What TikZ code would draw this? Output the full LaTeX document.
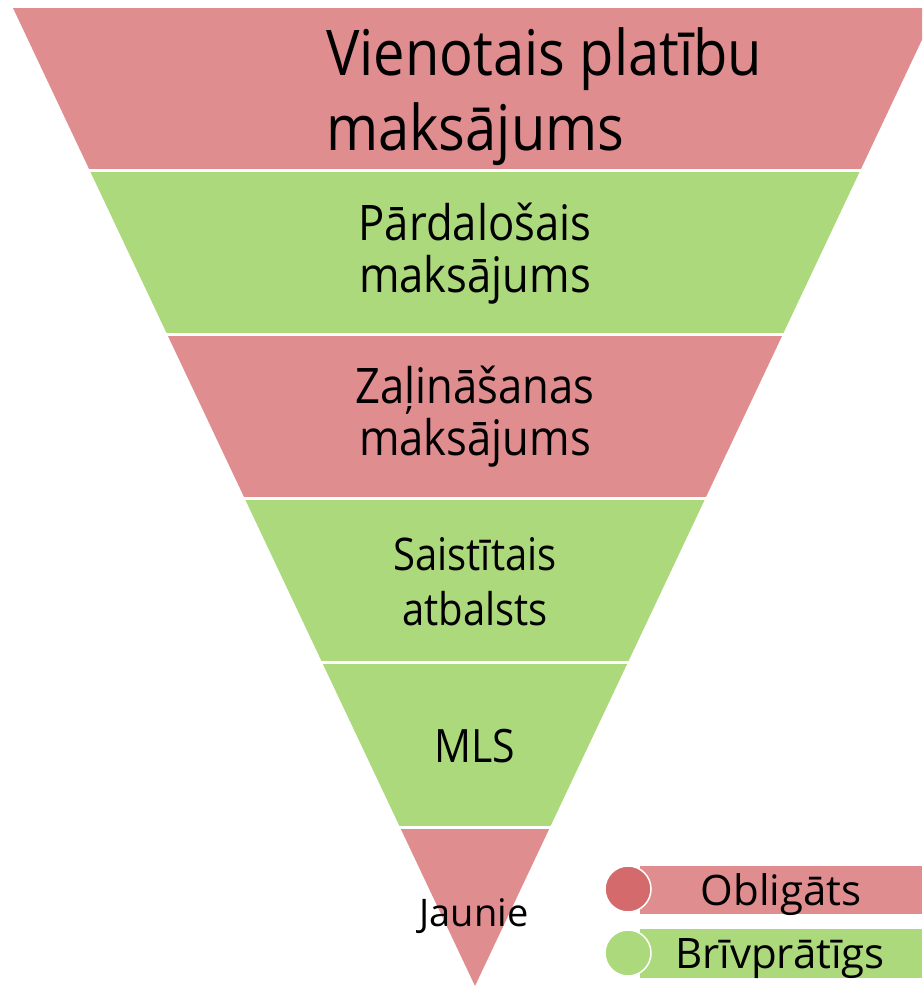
\documentclass[tikz,border=0pt]{standalone}
\usepackage{fontspec}
\setmainfont{Open Sans}
\newfontfamily\narrowfont{Open Sans}[FakeStretch=0.89]
\definecolor{bandred}{HTML}{E08D8F}
\definecolor{bandgreen}{HTML}{ADD97D}
\definecolor{dotred}{HTML}{D46A6C}
\tikzset{
  lbl/.style={anchor=base, align=center, inner sep=0pt, text=black},
  sep/.style={draw=white, line width=3pt},
}
\begin{document}
\begin{tikzpicture}[x=1pt,y=-1pt]
\useasboundingbox (0,0) rectangle (922,986);
\clip (0,0) rectangle (922,986);
% bands of the inverted triangle: apex (475,986), top y=8
\def\k{0.4724}
\foreach \ya/\yb/\c in {8/170.5/bandred, 170.5/334.5/bandgreen, 334.5/498.5/bandred, 498.5/662.5/bandgreen, 662.5/827.5/bandgreen, 827.5/986/bandred}{
  \fill[\c] ({475-(986-\ya)*\k},\ya) -- ({475+(986-\ya)*\k},\ya) -- ({475+(986-\yb)*\k},\yb) -- ({475-(986-\yb)*\k},\yb) -- cycle;
}
\foreach \y in {170.5,334.5,498.5,662.5,827.5}{
  \draw[sep] ({475-(986-\y)*\k-3},\y) -- ({475+(986-\y)*\k+3},\y);
}
% labels (base anchor = baseline of the last line)
\node[lbl, anchor=base west, align=left, font={\narrowfont\fontsize{63}{75}\selectfont}] (t1) at (326,150) {Vienotais platību\\maksājums};
\node[lbl, font={\narrowfont\fontsize{49}{52}\selectfont}] (t2) at (475,292) {Pārdalošais\\maksājums};
\node[lbl, font={\narrowfont\fontsize{49}{52}\selectfont}] (t3) at (475,455) {Zaļināšanas\\maksājums};
\node[lbl, font={\narrowfont\fontsize{45}{55}\selectfont}] (t4) at (475,625) {Saistītais\\atbalsts};
\node[lbl, font={\narrowfont\fontsize{46}{55}\selectfont}] (t5) at (475,762) {MLS};
\node[lbl, font={\fontsize{38}{45}\selectfont}] (t6) at (474,926) {Jaunie};
% legend
\fill[bandred] (640,866) rectangle (922,914);
\fill[bandgreen] (640,929) rectangle (922,978);
\filldraw[fill=dotred, draw=white, line width=1.5pt] (628,889) circle (23);
\filldraw[fill=bandgreen, draw=white, line width=1.5pt] (628,953) circle (23);
\node[lbl, font={\fontsize{42}{45}\selectfont}] (l1) at (781,905) {Obligāts};
\node[lbl, font={\fontsize{42}{45}\selectfont}] (l2) at (780,968) {Brīvprātīgs};
\end{tikzpicture}
\end{document}
